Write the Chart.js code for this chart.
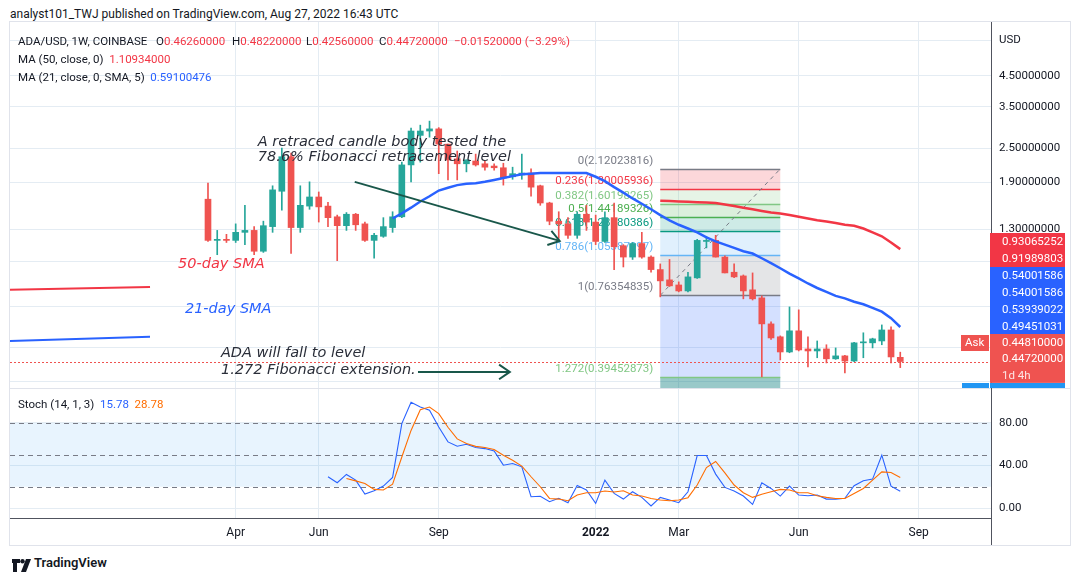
<!DOCTYPE html>
<html>
<head>
<meta charset="utf-8">
<title>ADA/USD 1W</title>
<script src="https://cdn.jsdelivr.net/npm/chart.js@4.4.1/dist/chart.umd.min.js"></script>
<style>
  html, body { margin: 0; padding: 0; }
  body { width: 1079px; height: 581px; position: relative; overflow: hidden; background: #fff;
         font-family: Roboto, 'Noto Sans', sans-serif; color: #131722; }
  .t { position: absolute; white-space: nowrap; line-height: 16px; font-size: 11.5px; }
  .red { color: #f23645; }
  .blue { color: #2962ff; }
  .orange { color: #ff6d00; }
  #frame { position: absolute; left: 9px; top: 21px; width: 1062px; height: 525px; border: 1px solid #e0e3eb; box-sizing: border-box; }
  #mainCanvas { position: absolute; left: 10px; top: 22px; }
  #stochCanvas { position: absolute; left: 10px; top: 388px; }
</style>
</head>
<body>
<div class="t" style="left:10px;top:6px;font-size:12px;">analyst101_TWJ published on TradingView.com, Aug 27, 2022 16:43 UTC</div>
<div id="frame"></div>
<canvas id="mainCanvas" width="1060" height="366"></canvas>
<canvas id="stochCanvas" width="1060" height="157"></canvas>

<!-- pane legends -->
<div class="t" style="left:18px;top:33px;">ADA/USD, 1W, COINBASE</div>
<div class="t" style="left:156px;top:33px;">O<span class="red">0.46260000</span></div>
<div class="t" style="left:232px;top:33px;">H<span class="red">0.48220000</span></div>
<div class="t" style="left:306px;top:33px;">L<span class="red">0.42560000</span></div>
<div class="t" style="left:379px;top:33px;">C<span class="red">0.44720000</span></div>
<div class="t red" style="left:454px;top:33px;">−0.01520000 (−3.29%)</div>
<div class="t" style="left:18px;top:51px;">MA (50, close, 0) &nbsp;<span class="red">1.10934000</span></div>
<div class="t" style="left:18px;top:69px;">MA (21, close, 0, SMA, 5) &nbsp;<span class="blue">0.59100476</span></div>
<div class="t" style="left:18px;top:396px;">Stoch (14, 1, 3) &nbsp;<span class="blue">15.78</span>&nbsp;&nbsp;<span class="orange">28.78</span></div>

<div style="position:absolute;left:12px;top:557px;">
  <svg width="20" height="13" viewBox="0 0 20 13"><path d="M0 0h8v4H5v9H1V4H0z" fill="#131722"/><circle cx="10.5" cy="2.2" r="2.2" fill="#131722"/><path d="M14 0h5l-5 13H9z" fill="#131722"/></svg>
</div>
<div class="t" style="left:34px;top:555px;font-size:13px;font-weight:600;">TradingView</div>

<script>
// weekly candles, first week starts 2021-03-15
const opens = [1.66,1.19,1.20,1.19,1.27,1.29,1.09,1.33,1.77,2.34,1.32,1.57,1.69,1.57,1.44,1.34,1.47,1.36,1.19,1.23,
  1.32,1.44,2.19,2.78,2.88,2.93,2.59,2.30,2.21,2.26,2.21,2.17,2.14,1.99,2.02,2.05,1.85,1.61,1.39,1.36,
  1.24,1.47,1.38,1.18,1.43,1.14,1.04,1.16,1.04,0.94,0.865,0.830,0.791,0.879,1.18,1.19,1.04,0.92,0.893,0.798,
  0.748,0.606,0.546,0.483,0.573,0.495,0.487,0.495,0.457,0.468,0.449,0.520,0.520,0.528,0.577,0.4626];
const highs = [1.89,1.29,1.25,1.36,1.58,1.33,1.39,1.85,2.51,2.41,1.85,1.91,1.76,1.62,1.46,1.49,1.48,1.38,1.26,1.43,
  1.50,2.24,2.95,3.02,3.12,2.96,2.59,2.45,2.28,2.39,2.26,2.21,2.22,2.15,2.39,2.12,1.86,1.62,1.50,1.43,
  1.50,1.58,1.46,1.50,1.61,1.15,1.17,1.27,1.05,0.984,1.02,0.851,0.92,1.20,1.23,1.24,1.05,0.984,0.90,0.915,
  0.760,0.616,0.55,0.695,0.679,0.546,0.528,0.512,0.499,0.47,0.522,0.564,0.54,0.601,0.592,0.4822];
const lows = [1.18,1.06,1.17,1.17,1.15,1.06,1.08,1.27,1.52,1.07,1.27,1.53,1.38,1.33,1.01,1.29,1.29,1.18,1.03,1.22,
  1.27,1.43,1.91,2.24,2.74,2.04,1.94,1.94,2.07,2.17,2.10,2.10,1.86,1.95,1.95,1.70,1.58,1.35,1.21,1.21,
  1.21,1.29,1.15,1.17,0.94,0.96,1.02,1.03,0.92,0.754,0.82,0.785,0.785,0.875,1.12,1.04,0.915,0.88,0.742,0.735,
  0.395,0.535,0.453,0.48,0.487,0.428,0.461,0.442,0.455,0.408,0.447,0.461,0.499,0.512,0.442,0.4256];
const closes = [1.19,1.20,1.19,1.27,1.29,1.09,1.34,1.79,2.34,1.32,1.58,1.69,1.56,1.43,1.34,1.47,1.35,1.19,1.24,1.33,
  1.44,2.19,2.88,2.88,2.93,2.59,2.28,2.21,2.28,2.19,2.15,2.14,1.97,2.04,2.05,1.83,1.61,1.39,1.36,1.24,
  1.47,1.38,1.18,1.43,1.13,1.04,1.16,1.04,0.94,0.858,0.824,0.791,0.886,1.19,1.19,1.04,0.915,0.886,0.791,0.742,
  0.606,0.541,0.483,0.573,0.491,0.487,0.495,0.457,0.468,0.449,0.520,0.524,0.537,0.577,0.464,0.4472];

// moving averages (start index = week number of first value)
const ma50Start = 49;
const ma50 = [1.64,1.635,1.63,1.625,1.62,1.615,1.61,1.59,1.57,1.55,1.53,1.51,1.49,1.48,1.46,1.44,1.42,1.40,1.385,1.37,
  1.35,1.34,1.31,1.27,1.23,1.17,1.109];
const ma21Start = 20;
const ma21 = [1.42,1.48,1.55,1.63,1.70,1.78,1.82,1.86,1.88,1.89,1.91,1.94,1.97,2.00,2.03,2.04,2.05,2.05,2.05,2.05,
  2.05,2.05,1.99,1.92,1.83,1.75,1.67,1.60,1.53,1.46,1.40,1.35,1.31,1.27,1.22,1.18,1.15,1.12,1.09,1.07,
  1.03,0.99,0.95,0.91,0.875,0.84,0.81,0.785,0.76,0.745,0.725,0.71,0.69,0.669,0.635,0.591];

// stochastic
const stochKStart = 13;
const stochK = [29.4,23.75,31.6,26.25,13.1,16.25,20.6,28.75,79.4,99.4,95,91.9,76.25,62.2,58.1,60,56.9,55.9,53.75,40.3,
  41.9,38.75,10.6,11,5.9,9.1,5,21.25,16.9,4.4,26.25,13.75,8.4,15.3,10,1.9,10,7.5,5,15.3,
  49.4,49.4,31.9,19.4,15.9,11.25,3.4,23.75,18.4,11.25,20.6,12.2,11.6,12.2,8.4,8.4,9.1,20.9,25.6,27.2,
  49.7,20.6,15.78];
const stochDStart = 15;
const stochD = [27.8,25.5,23,17.5,16.9,22.5,48,73,92.5,95,88.75,76,65,60.6,58,56.9,55,49.7,45,39.4,
  29.4,20,9,8.4,6.9,12.2,14.4,14.4,16,15,16.25,12.2,11.25,9,7.5,6.9,7.5,9.7,21.6,38,
  43.75,33,21.6,14.4,10,13,15.3,17.5,16.9,14.4,14.4,11.6,10,9,9,13.75,18.4,26.25,34,33.4,
  28.78];

// axes
const monthWeeks = [3, 12, 25, 42, 51, 64, 77];
const monthLabels = ['Apr', 'Jun', 'Sep', '2022', 'Mar', 'Jun', 'Sep'];
const priceTicks = [6, 4.5, 3.5, 2.5, 1.9, 1.3, 1.0, 0.7, 0.5, 0.38];
const priceLabels = ['USD', '4.50000000', '3.50000000', '2.50000000', '1.90000000', '1.30000000', '', '', '', ''];
const stochTicks = [0, 40, 80];

// fibonacci retracement drawn between week 49 and week 62
const fibLevels = ['0', '0.236', '0.382', '0.5', '0.618', '0.786', '1', '1.272'];
const fibPrices = [2.12023816, 1.80005936, 1.60198265, 1.44189326, 1.28180386, 1.05387997, 0.76354835, 0.39452873];
const fibStart = 49, fibEnd = 62;
const lastPrice = 0.4472;

const xMin = -21.45, xMax = 84.83;
const yMin = 0.361, yMax = 6.95;

const upColor = '#26a69a', downColor = '#ef5350';
const gridColor = '#e4ecf3';
const candleColors = closes.map((c, i) => c >= opens[i] ? upColor : downColor);

const fibLine = ['#787b86', '#f23645', '#81c784', '#4caf50', '#089981', '#64b5f6', '#787b86', '#81c784'];
const fibFill = ['rgba(242,54,69,0.2)', 'rgba(129,199,132,0.2)', 'rgba(76,175,80,0.2)', 'rgba(8,153,129,0.2)',
  'rgba(100,181,246,0.2)', 'rgba(120,123,134,0.2)', 'rgba(41,98,255,0.2)', 'rgba(0,121,121,0.4)'];

function arrow(ctx, x1, y1, x2, y2) {
  ctx.beginPath();
  ctx.moveTo(x1, y1);
  ctx.lineTo(x2, y2);
  ctx.stroke();
  const ang = Math.atan2(y2 - y1, x2 - x1);
  ctx.beginPath();
  ctx.moveTo(x2 - 13 * Math.cos(ang - 0.6), y2 - 13 * Math.sin(ang - 0.6));
  ctx.lineTo(x2, y2);
  ctx.lineTo(x2 - 13 * Math.cos(ang + 0.6), y2 - 13 * Math.sin(ang + 0.6));
  ctx.stroke();
}

const mainDeco = {
  id: 'mainDeco',
  beforeDatasetsDraw(chart) {
    const {ctx, chartArea: a, scales: {x, y}} = chart;
    ctx.save();
    ctx.beginPath();
    ctx.rect(a.left, a.top, a.width, a.height);
    ctx.clip();

    // fib zones
    const xl = x.getPixelForValue(fibStart), xr = x.getPixelForValue(fibEnd);
    for (let i = 0; i < fibPrices.length; i++) {
      const y1 = y.getPixelForValue(fibPrices[i]);
      const y2 = i + 1 < fibPrices.length ? y.getPixelForValue(fibPrices[i + 1]) : a.bottom;
      ctx.fillStyle = fibFill[i];
      ctx.fillRect(xl, y1, xr - xl, y2 - y1);
    }
    ctx.lineWidth = 1.5;
    ctx.font = '11.5px Roboto';
    ctx.textAlign = 'right';
    ctx.textBaseline = 'alphabetic';
    for (let i = 0; i < fibPrices.length; i++) {
      const yy = Math.round(y.getPixelForValue(fibPrices[i])) + 0.5;
      ctx.strokeStyle = fibLine[i];
      ctx.beginPath();
      ctx.moveTo(xl, yy);
      ctx.lineTo(xr, yy);
      ctx.stroke();
      ctx.fillStyle = fibLine[i];
      ctx.fillText(fibLevels[i] + '(' + fibPrices[i].toFixed(8) + ')', xl - 7, yy - 6);
    }
    // trend line of the retracement
    ctx.strokeStyle = '#787b86';
    ctx.lineWidth = 1;
    ctx.setLineDash([4, 4]);
    ctx.beginPath();
    ctx.moveTo(xl, y.getPixelForValue(fibPrices[6]));
    ctx.lineTo(xr, y.getPixelForValue(fibPrices[0]));
    ctx.stroke();

    // last price line
    ctx.strokeStyle = '#ef5350';
    ctx.setLineDash([2, 2]);
    const yp = Math.round(y.getPixelForValue(lastPrice)) + 0.5;
    ctx.beginPath();
    ctx.moveTo(a.left, yp);
    ctx.lineTo(a.right, yp);
    ctx.stroke();
    ctx.restore();
  },
  afterDatasetsDraw(chart) {
    const {ctx, chartArea: a, scales: {x, y}} = chart;
    const px = v => x.getPixelForValue(v), py = v => y.getPixelForValue(v);
    ctx.save();
    ctx.beginPath();
    ctx.rect(a.left, a.top, a.width, a.height);
    ctx.clip();

    // hand drawn legend lines for the two averages
    ctx.lineWidth = 2;
    ctx.strokeStyle = '#f23645';
    ctx.beginPath(); ctx.moveTo(px(-21.45), py(0.798)); ctx.lineTo(px(-6.28), py(0.817)); ctx.stroke();
    ctx.strokeStyle = '#2962ff';
    ctx.beginPath(); ctx.moveTo(px(-21.45), py(0.528)); ctx.lineTo(px(-6.28), py(0.546)); ctx.stroke();

    ctx.font = 'italic 14.5px "DejaVu Sans"';
    ctx.textAlign = 'left';
    ctx.textBaseline = 'alphabetic';
    ctx.fillStyle = '#f23645';
    ctx.fillText('50-day SMA', px(-3.25), py(0.953));
    ctx.fillStyle = '#2962ff';
    ctx.fillText('21-day SMA', px(-2.5), py(0.662));

    ctx.fillStyle = '#2a2e39';
    ctx.fillText('A retraced candle body tested the', px(5.4), py(2.55));
    ctx.fillText('78.6% Fibonacci retracement level', px(5.4), py(2.26));
    ctx.fillText('ADA will fall to level', px(1.4), py(0.464));
    ctx.fillText('1.272 Fibonacci extension.', px(1.4), py(0.405));

    ctx.strokeStyle = '#19574a';
    ctx.lineWidth = 2;
    arrow(ctx, px(15.9), py(1.91), px(38.1), py(1.185));
    arrow(ctx, px(22.75), py(0.411), px(32.7), py(0.411));
    ctx.restore();
  },
  afterDraw(chart) {
    const {ctx, chartArea: a} = chart;
    ctx.save();
    // stacked price labels on the axis
    const boxX = a.right - 1, boxW = 75;
    const groups = [
      {top: 211, rowH: 17, color: '#f23645', rows: ['0.93065252', '0.91989803']},
      {top: 245, rowH: 16.75, color: '#2962ff', rows: ['0.54001586', '0.54001586', '0.53939022', '0.49451031']},
      {top: 312, rowH: 16.3, color: '#ef5350', rows: ['0.44810000', '0.44720000', '1d 4h']},
      {top: 361, rowH: 16, color: '#2196f3', rows: ['']}
    ];
    ctx.font = '11.5px Roboto';
    ctx.textBaseline = 'middle';
    ctx.textAlign = 'left';
    groups.forEach(g => {
      const h = g.rows.length * g.rowH;
      ctx.fillStyle = g.color;
      ctx.fillRect(boxX, g.top, boxW, h);
      g.rows.forEach((r, k) => {
        ctx.fillStyle = r === '1d 4h' ? 'rgba(255,255,255,0.85)' : '#ffffff';
        ctx.fillText(r, boxX + 12, g.top + g.rowH * (k + 0.5) + 1);
      });
    });
    // ask / bid tags
    ctx.fillStyle = '#ef5350';
    ctx.fillRect(a.right - 30, 313, 28, 16);
    ctx.fillStyle = '#fff';
    ctx.fillText('Ask', a.right - 26, 321.5);
    ctx.fillStyle = '#2196f3';
    ctx.fillRect(a.right - 29, 361, 27, 6);
    ctx.restore();
  }
};

const stochDeco = {
  id: 'stochDeco',
  beforeDatasetsDraw(chart) {
    const {ctx, chartArea: a, scales: {y}} = chart;
    ctx.save();
    ctx.fillStyle = 'rgba(33,150,243,0.1)';
    ctx.fillRect(a.left, y.getPixelForValue(80), a.width, y.getPixelForValue(20) - y.getPixelForValue(80));
    ctx.strokeStyle = '#787b86';
    ctx.lineWidth = 1;
    ctx.setLineDash([5, 4]);
    [80, 50, 20].forEach(v => {
      const yy = Math.round(y.getPixelForValue(v)) + 0.5;
      ctx.beginPath();
      ctx.moveTo(a.left, yy);
      ctx.lineTo(a.right, yy);
      ctx.stroke();
    });
    ctx.restore();
  },
  afterDraw(chart) {
    const {ctx, chartArea: a} = chart;
    ctx.save();
    ctx.fillStyle = '#e0e3eb';
    ctx.fillRect(0, 0, chart.width, 1);
    ctx.strokeStyle = '#50535e';
    ctx.lineWidth = 1;
    ctx.beginPath();
    ctx.moveTo(Math.round(a.right) + 0.5, 0);
    ctx.lineTo(Math.round(a.right) + 0.5, chart.height);
    ctx.stroke();
    ctx.restore();
  }
};

const weekIdx = opens.map((o, i) => i);

new Chart(document.getElementById('mainCanvas'), {
  type: 'bar',
  data: {
    datasets: [
      {type: 'line', data: ma50.map((v, k) => ({x: ma50Start + k, y: v})), borderColor: '#f23645', borderWidth: 2.5,
        pointRadius: 0, order: 0},
      {type: 'line', data: ma21.map((v, k) => ({x: ma21Start + k, y: v})), borderColor: '#2962ff', borderWidth: 2.5,
        pointRadius: 0, order: 0},
      {data: weekIdx.map(i => ({x: i, y: [opens[i], closes[i]]})), backgroundColor: candleColors,
        barThickness: 6, minBarLength: 1, grouped: false, order: 1},
      {data: weekIdx.map(i => ({x: i, y: [lows[i], highs[i]]})), backgroundColor: candleColors,
        barThickness: 1, grouped: false, order: 2}
    ]
  },
  options: {
    responsive: false,
    animation: false,
    layout: {padding: 0},
    plugins: {legend: {display: false}, tooltip: {enabled: false}},
    scales: {
      x: {
        type: 'linear', min: xMin, max: xMax, offset: false,
        afterBuildTicks: s => { s.ticks = monthWeeks.map(v => ({value: v})); },
        ticks: {display: false},
        grid: {color: gridColor, drawTicks: false, offset: false},
        border: {display: false},
        afterFit: s => { s.height = 0; s.paddingLeft = 0; s.paddingRight = 0; }
      },
      y: {
        type: 'logarithmic', position: 'right', min: yMin, max: yMax,
        afterBuildTicks: s => { s.ticks = priceTicks.map(v => ({value: v})); },
        ticks: {callback: (v, i) => priceLabels[i], color: '#131722', font: {family: 'Roboto', size: 11.5}, padding: 8},
        grid: {color: gridColor, drawTicks: false},
        border: {color: '#50535e'},
        afterFit: s => { s.width = 79; s.paddingTop = 0; s.paddingBottom = 0; }
      }
    }
  },
  plugins: [mainDeco]
});

new Chart(document.getElementById('stochCanvas'), {
  type: 'line',
  data: {
    datasets: [
      {data: stochD.map((v, k) => ({x: stochDStart + k, y: v})), borderColor: '#ff6d00', borderWidth: 1.1, pointRadius: 0},
      {data: stochK.map((v, k) => ({x: stochKStart + k, y: v})), borderColor: '#2962ff', borderWidth: 1.1, pointRadius: 0}
    ]
  },
  options: {
    responsive: false,
    animation: false,
    layout: {padding: 0},
    plugins: {legend: {display: false}, tooltip: {enabled: false}},
    scales: {
      x: {
        type: 'linear', min: xMin, max: xMax,
        afterBuildTicks: s => { s.ticks = monthWeeks.map(v => ({value: v})); },
        ticks: {
          callback: (v, i) => monthLabels[i], color: '#131722', padding: 8, maxRotation: 0, autoSkip: false,
          font: c => ({family: 'Roboto', size: 12, weight: monthLabels[c.index] === '2022' ? 'bold' : 'normal'})
        },
        grid: {color: gridColor, drawTicks: false},
        border: {color: '#50535e'},
        afterFit: s => { s.height = 27; s.paddingLeft = 0; s.paddingRight = 0; }
      },
      y: {
        position: 'right', min: -9.4, max: 112.9,
        afterBuildTicks: s => { s.ticks = stochTicks.map(v => ({value: v})); },
        ticks: {callback: v => v.toFixed(2), color: '#131722', font: {family: 'Roboto', size: 11.5}, padding: 8},
        grid: {color: gridColor, drawTicks: false},
        border: {display: false},
        afterFit: s => { s.width = 79; s.paddingTop = 0; s.paddingBottom = 0; }
      }
    }
  },
  plugins: [stochDeco]
});
</script>
</body>
</html>
